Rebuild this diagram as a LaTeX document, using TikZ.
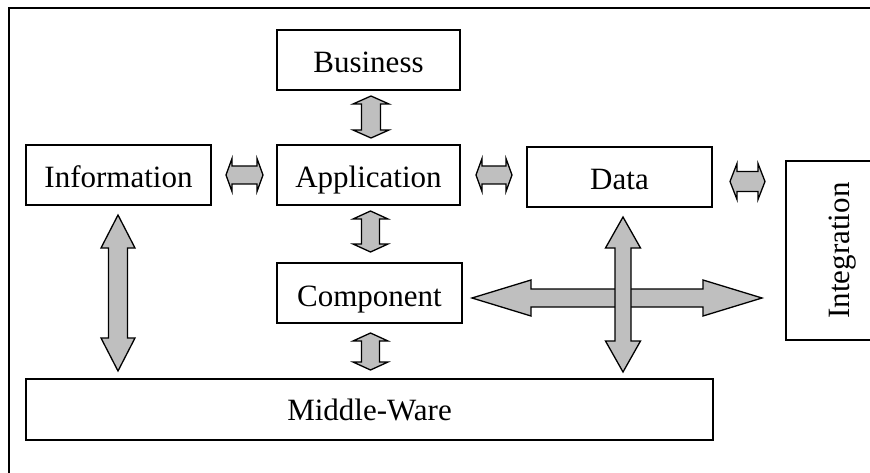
\documentclass[tikz,border=0pt]{standalone}
\usepackage{fontspec}
\setmainfont{Liberation Serif}
\usetikzlibrary{calc}

% horizontal block arrow: x-left, x-right, y-centre, half shaft, half head, head length
\newcommand\hblock[6]{%
  \filldraw[blockarrow] (#1,#3) -- ({#1+#6},{#3-#5}) -- ({#1+#6},{#3-#4})
    -- ({#2-#6},{#3-#4}) -- ({#2-#6},{#3-#5}) -- (#2,#3)
    -- ({#2-#6},{#3+#5}) -- ({#2-#6},{#3+#4}) -- ({#1+#6},{#3+#4})
    -- ({#1+#6},{#3+#5}) -- cycle;}
% vertical block arrow: y-top, y-bottom, x-centre, half shaft, half head, head length
\newcommand\vblock[6]{%
  \filldraw[blockarrow] (#3,#1) -- ({#3-#5},{#1+#6}) -- ({#3-#4},{#1+#6})
    -- ({#3-#4},{#2-#6}) -- ({#3-#5},{#2-#6}) -- (#3,#2)
    -- ({#3+#5},{#2-#6}) -- ({#3+#4},{#2-#6}) -- ({#3+#4},{#1+#6})
    -- ({#3+#5},{#1+#6}) -- cycle;}

\tikzset{
  box/.style={draw, line width=1.4pt, inner sep=0pt, fill=white,
    text height=26pt, text depth=0pt,
    font=\fontsize{31}{36}\selectfont},
  blockarrow/.style={draw=black, fill=black!25, line width=1.3pt, line join=miter},
  frame/.style={draw, line width=1.4pt}
}

\begin{document}
\begin{tikzpicture}[x=1pt, y=-1pt]
  \useasboundingbox (0,0) rectangle (870,473);
  \clip (0,0) rectangle (870,473);

  % outer frame
  \draw[frame] (9,8) rectangle (900,500);

  % layer boxes
  \node[box, minimum width=183pt, minimum height=60pt] (business) at (368.5,60) {Business};
  \node[box, minimum width=185pt, minimum height=60pt] (information) at (118.5,175) {Information};
  \node[box, minimum width=183pt, minimum height=60pt] (application) at (368.5,175) {Application};
  \node[box, minimum width=185pt, minimum height=60pt] (data) at (619.5,177) {Data};
  \node[box, minimum width=185pt, minimum height=60pt] (component) at (369.5,293) {Component};
  \node[box, minimum width=687pt, minimum height=61pt, text height=21pt] (middleware) at (369.5,409.5) {Middle-Ware};
  \node[box, minimum width=179pt, minimum height=100pt, rotate=90] (integration) at (836,250.5) {Integration};

  % small links between neighbouring layers
  \hblock{226}{263}{175}{9}{16.5}{6}
  \hblock{476}{512}{175}{9}{16.5}{6}
  \hblock{730}{765}{181.5}{10}{18}{7}
  \vblock{96}{138}{371}{9.5}{18}{8}
  \vblock{211}{252}{370.5}{9}{17.5}{8}
  \vblock{333}{370}{370.5}{9}{17.5}{8}

  % large links
  \vblock{215}{371}{118}{9.5}{17}{33}
  \hblock{472}{762}{298}{9}{18}{59}
  \vblock{217}{372}{623}{8}{17.5}{31}
\end{tikzpicture}
\end{document}
